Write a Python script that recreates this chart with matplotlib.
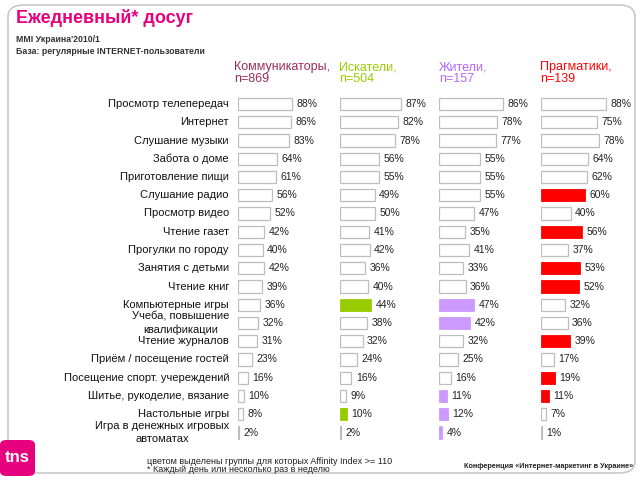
import matplotlib
matplotlib.use("Agg")
import matplotlib.pyplot as plt
from matplotlib.patches import FancyBboxPatch, Rectangle

plt.rcParams['font.family'] = ['Liberation Sans', 'DejaVu Sans']

categories = ["Просмотр телепередач", "Интернет", "Слушание музыки", "Забота о доме",
              "Приготовление пищи", "Слушание радио", "Просмотр видео", "Чтение газет",
              "Прогулки по городу", "Занятия с детьми", "Чтение книг", "Компьютерные игры",
              "Учеба, повышение\nквалификации", "Чтение журналов", "Приём / посещение гостей",
              "Посещение спорт. учереждений", "Шитье, рукоделие, вязание", "Настольные игры",
              "Игра в денежных игровых\nавтоматах"]

communicators = [88, 86, 83, 64, 61, 56, 52, 42, 40, 42, 39, 36, 32, 31, 23, 16, 10, 8, 2]
seekers       = [87, 82, 78, 56, 55, 49, 50, 41, 42, 36, 40, 44, 38, 32, 24, 16, 9, 10, 2]
residents     = [86, 78, 77, 55, 55, 55, 47, 35, 41, 33, 36, 47, 42, 32, 25, 16, 11, 12, 4]
pragmatics    = [88, 75, 78, 64, 62, 60, 40, 56, 37, 53, 52, 32, 36, 39, 17, 19, 11, 7, 1]

# highlighted (Affinity Index >= 110)
hl_communicators = []
hl_seekers = [11, 17]
hl_residents = [11, 12, 16, 17, 18]
hl_pragmatics = [5, 7, 9, 10, 13, 15, 16]

groups = ["Коммуникаторы,\nn=869", "Искатели,\nn=504", "Жители,\nn=157", "Прагматики,\nn=139"]
group_colors = ["#9B2D5E", "#99CC00", "#B266FF", "#FF0000"]
hl_colors = ["#9B2D5E", "#99CC00", "#CC99FF", "#FF0000"]

W, H = 640, 480
fig = plt.figure(figsize=(6.4, 4.8), dpi=100)

def fx(px): return px / W
def fy(py): return 1 - py / H

# frame
frame = FancyBboxPatch((fx(8), fy(473)), fx(627), (473 - 5) / H,
                       boxstyle="round,pad=0,rounding_size=0.025",
                       transform=fig.transFigure, fill=False, ec="#C8C8C8", lw=1.2)
fig.patches.append(frame)

# title
fig.text(fx(16), fy(18), "Ежедневный* досуг", color="#E6007E", fontsize=13,
         fontweight="bold", va="center", ha="left")
fig.text(fx(16), fy(39), "MMI Украина'2010/1", color="#333333", fontsize=6.3,
         fontweight="bold", va="center")
fig.text(fx(16), fy(51), "База: регулярные INTERNET-пользователи", color="#333333",
         fontsize=6.3, fontweight="bold", va="center")

n = len(categories)
row0, dy = 104, 18.25
ax_top = row0 - 0.5 * dy
ax_bot = row0 + (n - 0.5) * dy

panels = [
    (238, 0.615, communicators, hl_communicators, 234),
    (340, 0.705, seekers, hl_seekers, 339),
    (439, 0.74, residents, hl_residents, 439),
    (541, 0.74, pragmatics, hl_pragmatics, 540),
]

axw = 100
for k, (left, scale, vals, hl, hx) in enumerate(panels):
    ax = fig.add_axes([fx(left), fy(ax_bot), axw / W, (ax_bot - ax_top) / H])
    ax.set_xlim(0, axw / scale)
    ax.set_ylim(n - 0.5, -0.5)
    ax.axis("off")
    for i, v in enumerate(vals):
        if i in hl:
            ax.barh(i, v, height=0.68, color=hl_colors[k], edgecolor=hl_colors[k], lw=0.6)
        else:
            ax.barh(i, v, height=0.68, color="white", edgecolor="#BDBDBD", lw=0.9)
        ax.text(v + 4.5 / scale, i, f"{v}%", va="center", ha="left", fontsize=7.5,
                color="#222222")
    fig.text(fx(hx), fy(73), groups[k], color=group_colors[k], fontsize=9,
             va="center", ha="left", linespacing=1.0)
    if k == 0:
        for i, c in enumerate(categories):
            ax.text(-9 / scale, i, c, ha="right", va="center", fontsize=8,
                    multialignment="center", color="#111111", linespacing=1.45)

# logo
logo = FancyBboxPatch((fx(0), fy(476)), fx(35), 36 / H,
                      boxstyle="round,pad=0,rounding_size=0.01",
                      transform=fig.transFigure, fc="#E6007E", ec="none")
fig.patches.append(logo)
fig.text(fx(17), fy(458), "tns", color="white", fontsize=12, fontweight="bold",
         ha="center", va="center")

# footer
fig.text(fx(147), fy(461), "цветом выделены группы для которых Affinity Index >= 110",
         fontsize=6.5, color="#222222", va="center")
fig.text(fx(147), fy(469), "* Каждый день или несколько раз в неделю",
         fontsize=6.5, color="#222222", va="center")
fig.text(fx(633), fy(467), "Конференция «Интернет-маркетинг в Украине»",
         fontsize=5.2, color="#222222", va="center", ha="right", fontweight="bold")

fig.savefig("out.png", dpi=100)
